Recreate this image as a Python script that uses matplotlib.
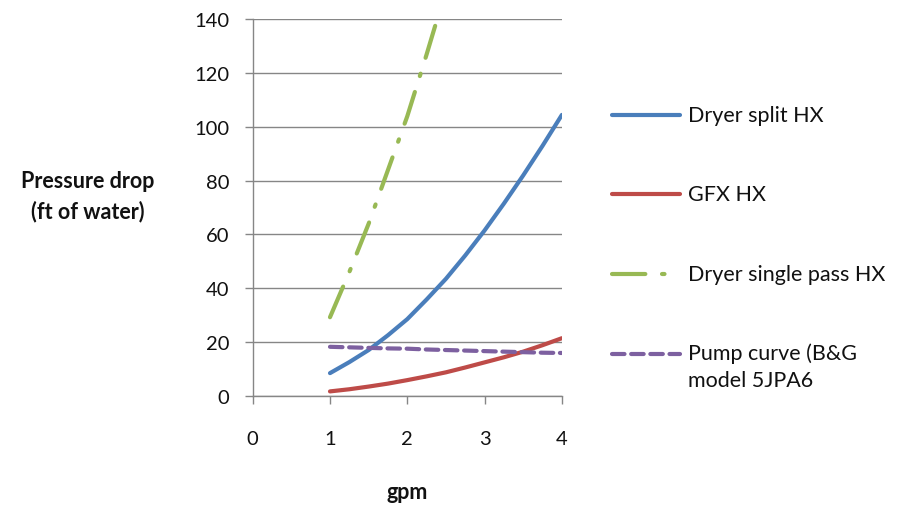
import matplotlib

matplotlib.use("Agg")
import matplotlib.pyplot as plt
from matplotlib.lines import Line2D

# values
gpm = [1.0, 1.25, 1.5, 1.75, 2.0, 2.25, 2.5, 2.75, 3.0, 3.25, 3.5, 3.75, 4.0]
dryer_split = [8.4, 12.5, 17.0, 22.5, 28.5, 35.8, 43.5, 52.2, 61.5, 71.5, 82.0, 93.0, 104.5]
gfx = [1.6, 2.4, 3.4, 4.5, 5.8, 7.2, 8.7, 10.5, 12.4, 14.3, 16.4, 18.8, 21.4]
pump_curve = [18.2, 18.0, 17.8, 17.6, 17.5, 17.2, 17.0, 16.8, 16.6, 16.4, 16.2, 16.0, 15.9]
gpm_single = [1.0, 1.25, 1.5, 1.75, 2.0, 2.25, 2.5]
dryer_single = [29.2, 46.0, 64.0, 84.0, 104.0, 127.0, 151.0]

labels = [
    "Dryer split HX",
    "GFX HX",
    "Dryer single pass HX",
    "Pump curve (B&G\nmodel 5JPA6",
]
x_ticks = [0, 1, 2, 3, 4]
y_ticks = [0, 20, 40, 60, 80, 100, 120, 140]

BLUE = "#4a7ebb"
RED = "#be4b48"
GREEN = "#98b954"
PURPLE = "#7d60a0"
GRAY = "#868686"
TXT = "#111111"

plt.rcParams["font.family"] = ["Lato", "DejaVu Sans"]

fig = plt.figure(figsize=(9.08, 5.06), dpi=100)
ax = fig.add_axes([0.2783, 0.216, 0.3405, 0.7435])

lw = 3
series = [
    (gpm, dryer_split, dict(color=BLUE, linestyle="-")),
    (gpm, gfx, dict(color=RED, linestyle="-")),
    (gpm_single, dryer_single, dict(color=GREEN, linestyle=(0, (8, 4, 0.6, 4)))),
    (gpm, pump_curve, dict(color=PURPLE, linestyle=(0, (3, 1.6)))),
]
for x, y, st in series:
    ax.plot(x, y, linewidth=lw, solid_capstyle="round", dash_capstyle="round", **st)

ax.set_xlim(0, 4)
ax.set_ylim(0, 140)
ax.set_xticks(x_ticks)
ax.set_yticks(y_ticks)
ax.yaxis.grid(True, color=GRAY, linewidth=1)
ax.set_axisbelow(True)
for s in ["top", "right"]:
    ax.spines[s].set_visible(False)
for s in ["left", "bottom"]:
    ax.spines[s].set_color(GRAY)
    ax.spines[s].set_linewidth(1)
ax.tick_params(axis="y", length=6, width=1, color=GRAY, pad=11, labelsize=14.5, labelcolor=TXT)
ax.tick_params(axis="x", length=6, width=1, color=GRAY, pad=19, labelsize=14.5, labelcolor=TXT)

# axis titles
fig.text(88 / 908, 1 - 197 / 506, "Pressure drop\n(ft of water)", ha="center", va="center",
         fontsize=15.5, fontweight="bold", linespacing=1.5, color=TXT)
fig.text(407 / 908, 1 - 493 / 506, "gpm", ha="center", va="center",
         fontsize=15.5, fontweight="bold", color=TXT)

# legend drawn by hand to match the spacing of the original
leg_y = [116, 195, 275, 355]
for (x, y, st), lab, py in zip(series, labels, leg_y):
    yy = 1 - py / 506
    fig.add_artist(Line2D([612 / 908, 680 / 908], [yy, yy], transform=fig.transFigure,
                          linewidth=lw, solid_capstyle="round", dash_capstyle="round", **st))
    if "\n" in lab:
        fig.text(688 / 908, 1 - (py - 12) / 506, lab, ha="left", va="top",
                 fontsize=15.5, color=TXT, linespacing=1.45)
    else:
        fig.text(688 / 908, yy, lab, ha="left", va="center", fontsize=15.5, color=TXT)

fig.savefig("out.png", dpi=100)
